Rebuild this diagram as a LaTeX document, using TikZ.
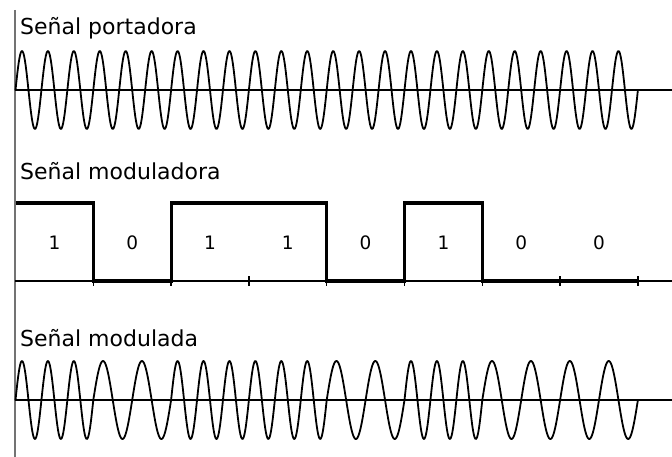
\documentclass[tikz,border=0pt]{standalone}
\usepackage{fontspec}
\setmainfont{DejaVu Sans}
\usepackage{tikz}
\usetikzlibrary{positioning,calc}

\tikzset{
  axisline/.style={black, line width=1.5pt},
  vaxisline/.style={black!55, line width=2pt},
  wave/.style={black, line width=1.8pt, line join=round, line cap=round},
  pulse/.style={black, line width=3.2pt, line join=miter},
  tickmark/.style={black, line width=1.4pt},
  sigtitle/.style={anchor=base west, inner sep=0pt, font=\fontsize{22}{24}\selectfont},
  bitlabel/.style={inner sep=0pt, font=\fontsize{18.5}{20}\selectfont}
}

\begin{document}
\begin{tikzpicture}[x=1pt, y=-1pt]
\useasboundingbox (0,0) rectangle (672,457);
\def\xs{15.5}
\def\bw{77.8}
\pgfmathsetmacro\xe{\xs+8*\bw}

\draw[vaxisline] (15,10) -- (15,457);
\draw[axisline] (15,90) -- (672,90);
\draw[axisline] (15,281) -- (672,281);
\draw[axisline] (15,400) -- (672,400);

\node[sigtitle] (tportadora) at (20,35) {Señal portadora};
\node[sigtitle] (tmoduladora) at (20,180) {Señal moduladora};
\node[sigtitle] (tmodulada) at (20,346) {Señal modulada};

\draw[wave] plot[domain=\xs:\xe, samples=800] (\x,{90-39*sin(((\x-\xs)/\bw)*1080)});

\foreach \i in {1,...,8}
  \draw[tickmark] ({\xs+\i*\bw},276) -- ({\xs+\i*\bw},286);
\draw[pulse] (\xs,203) -| ({\xs+\bw},281) -| ({\xs+2*\bw},203) -| ({\xs+4*\bw},281)
  -| ({\xs+5*\bw},203) -| ({\xs+6*\bw},281) -- (\xe,281);

\foreach \bitval [count=\i from 0] in {1,0,1,1,0,1,0,0}{
  \node[bitlabel] (bit\i) at ({\xs+(\i+0.5)*\bw},243) {\bitval};
  \pgfmathsetmacro\xa{\xs+\i*\bw}
  \pgfmathsetmacro\xb{\xa+\bw}
  \pgfmathsetmacro\nc{\bitval==1 ? 3 : 2}
  \draw[wave] plot[domain=\xa:\xb, samples=120] (\x,{400-39*sin(((\x-\xa)/\bw)*\nc*360)});
}
\end{tikzpicture}
\end{document}
